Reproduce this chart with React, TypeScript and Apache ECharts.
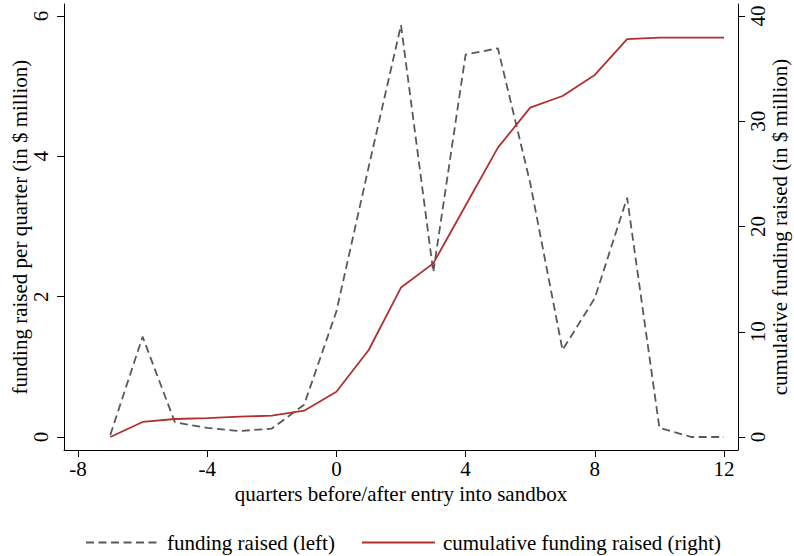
import React, { useEffect, useRef } from "react";
import * as echarts from "echarts";

const quarters = [-7, -6, -5, -4, -3, -2, -1, 0, 1, 2, 3, 4, 5, 6, 7, 8, 9, 10, 11, 12];
const funding = [0.03, 1.43, 0.21, 0.13, 0.085, 0.12, 0.46, 1.79, 3.85, 5.87, 2.35, 5.45, 5.54, 3.62, 1.24, 1.98, 3.41, 0.13, 0.0, 0.0];
const cumulative = [0.0, 1.43, 1.71, 1.8, 1.93, 2.03, 2.5, 4.3, 8.27, 14.2, 16.5, 22.0, 27.5, 31.3, 32.4, 34.4, 37.8, 37.95, 37.95, 37.95];
const xTicks = [-8, -4, 0, 4, 8, 12];
const leftTicks = [0, 2, 4, 6];
const rightTicks = [0, 10, 20, 30, 40];

const FONT = "Liberation Serif";
const FS = 21;

export default function App() {
  const ref = useRef<HTMLDivElement>(null);
  useEffect(() => {
    if (!ref.current) return;
    const chart = echarts.init(ref.current, null, { renderer: "svg" });
    const textStyle = { fontFamily: FONT, fontSize: FS, color: "#000" };
    const nameStyle = { ...textStyle, lineHeight: 21 };
    const axisLine = { show: true, onZero: false, lineStyle: { color: "#000", width: 1 } };
    chart.setOption({
      animation: false,
      backgroundColor: "#fff",
      textStyle: { fontFamily: FONT },
      grid: { left: 64, right: 56, top: 4, bottom: 106, containLabel: false, outerBoundsMode: "none" },
      xAxis: {
        type: "value",
        min: -8.433,
        max: 12.433,
        name: "quarters before/after entry into sandbox",
        nameLocation: "middle",
        nameGap: 33,
        nameMoveOverlap: false,
        nameTextStyle: textStyle,
        axisLine,
        axisTick: { show: true, length: 7, customValues: xTicks, lineStyle: { color: "#000" } },
        axisLabel: { ...textStyle, margin: 8, customValues: xTicks },
        splitLine: { show: false },
      },
      yAxis: [
        {
          type: "value",
          position: "left",
          min: -0.185,
          max: 6.171,
          name: "funding raised per quarter (in $ million)",
          nameLocation: "middle",
          nameGap: 34,
          nameMoveOverlap: false,
          nameTextStyle: nameStyle,
          axisLine,
          axisTick: { show: true, length: 7, customValues: leftTicks, lineStyle: { color: "#000" } },
          axisLabel: { ...textStyle, rotate: 90, margin: 13, customValues: leftTicks },
          splitLine: { show: false },
        },
        {
          type: "value",
          position: "right",
          min: -0.185 * 40 / 6,
          max: 6.171 * 40 / 6,
          name: "cumulative funding raised (in $ million)",
          nameLocation: "middle",
          nameGap: 31,
          nameMoveOverlap: false,
          nameTextStyle: nameStyle,
          axisLine,
          axisTick: { show: true, length: 7, customValues: rightTicks, lineStyle: { color: "#000" } },
          axisLabel: { ...textStyle, rotate: 90, margin: 9, customValues: rightTicks },
          splitLine: { show: false },
        },
      ],
      legend: {
        left: 80,
        top: 527,
        itemWidth: 73,
        itemHeight: 10,
        itemGap: 26,
        itemStyle: { opacity: 0 },
        textStyle: { ...textStyle, padding: [0, 0, 0, 3] },
        data: ["funding raised (left)", "cumulative funding raised (right)"],
      },
      series: [
        {
          name: "funding raised (left)",
          type: "line",
          yAxisIndex: 0,
          data: quarters.map((q, i) => [q, funding[i]]),
          symbol: "none",
          lineStyle: { color: "#595959", width: 1.8, type: [8, 4.5] },
          itemStyle: { color: "#595959" },
        },
        {
          name: "cumulative funding raised (right)",
          type: "line",
          yAxisIndex: 1,
          data: quarters.map((q, i) => [q, cumulative[i]]),
          symbol: "none",
          lineStyle: { color: "#b03030", width: 1.8 },
          itemStyle: { color: "#b03030" },
        },
      ],
    });
    return () => chart.dispose();
  }, []);
  return <div ref={ref} style={{ width: 794, height: 556, position: "absolute", left: 0, top: 0 }} />;
}
